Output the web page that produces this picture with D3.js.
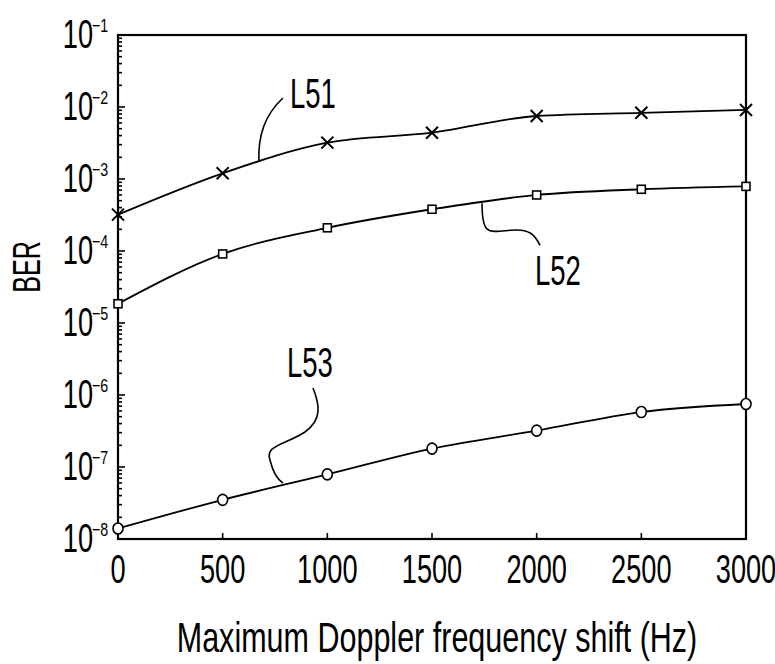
<!DOCTYPE html>
<html>
<head>
<meta charset="utf-8">
<script src="https://cdn.jsdelivr.net/npm/d3@7"></script>
<style>
  body { margin: 0; background: #fff; }
  text { font-family: "Liberation Sans", Arial, sans-serif; fill: #000; }
</style>
</head>
<body>
<div id="vis"></div>
<script>
// data
var freq = [0, 500, 1000, 1500, 2000, 2500, 3000];
var l51 = [3.2e-4, 1.2e-3, 3.2e-3, 4.4e-3, 7.5e-3, 8.3e-3, 9.1e-3];
var l52 = [1.85e-5, 9.1e-5, 2.1e-4, 3.8e-4, 6.0e-4, 7.2e-4, 7.9e-4];
var l53 = [1.4e-8, 3.5e-8, 7.9e-8, 1.8e-7, 3.2e-7, 5.8e-7, 7.5e-7];
var xTicks = [0, 500, 1000, 1500, 2000, 2500, 3000];
var yExp = [-1, -2, -3, -4, -5, -6, -7, -8];

const width = 775;
const height = 664;
const margin = { top: 35, right: 29, bottom: 125, left: 118 };

var svg = d3
    .select("#vis")
    .append("svg")
    .attr("width", width)
    .attr("height", height);

var x = d3.scaleLinear().domain([0, 3000]).range([margin.left, width - margin.right]);
var y = d3.scaleLog().domain([1e-8, 1e-1]).range([height - margin.bottom, margin.top]);

// the plotter font is very narrow, so squeeze the glyphs horizontally
function label(g, px, py, str, size, anchor, sx) {
    return g.append("text")
        .attr("transform", "translate(" + px + "," + py + ") scale(" + (sx || 0.68) + ",1)")
        .attr("text-anchor", anchor || "start")
        .style("font-size", size + "px")
        .text(str);
}

// frame
svg.append("rect")
    .attr("x", x(0))
    .attr("y", y(1e-1))
    .attr("width", x(3000) - x(0))
    .attr("height", y(1e-8) - y(1e-1))
    .attr("fill", "none")
    .attr("stroke", "#000")
    .attr("stroke-width", 2.2);

// left axis ticks (inward), with log minors
var yTickVals = [];
for (var e = -8; e < -1; e++) {
    for (var m = 1; m < 10; m++) yTickVals.push({ v: m * Math.pow(10, e), major: m == 1 });
}
svg.append("g")
    .selectAll("line")
    .data(yTickVals)
    .enter()
    .append("line")
    .attr("x1", x(0))
    .attr("x2", function(d) { return x(0) + (d.major ? 7 : 4); })
    .attr("y1", function(d) { return y(d.v); })
    .attr("y2", function(d) { return y(d.v); })
    .attr("stroke", "#000")
    .attr("stroke-width", 1.6);

// bottom ticks
svg.append("g")
    .selectAll("line")
    .data(xTicks)
    .enter()
    .append("line")
    .attr("x1", function(d) { return x(d); })
    .attr("x2", function(d) { return x(d); })
    .attr("y1", y(1e-8))
    .attr("y2", y(1e-8) - 6)
    .attr("stroke", "#000")
    .attr("stroke-width", 1.6);

// tick labels
var gx = svg.append("g");
xTicks.forEach(function(t) {
    label(gx, x(t), 583, String(t), 40, "middle");
});

var gy = svg.append("g");
yExp.forEach(function(e) {
    var py = y(Math.pow(10, e));
    label(gy, 93, py + 13, "10", 40, "end");
    label(gy, 92, py - 3, "\u2212" + Math.abs(e), 19, "start", 0.75);
});

// axis titles
label(svg, 437, 652, "Maximum Doppler frequency shift (Hz)", 43, "middle", 0.71);
svg.append("text")
    .attr("transform", "translate(40,267) rotate(-90) scale(0.66,1)")
    .attr("text-anchor", "middle")
    .style("font-size", "38px")
    .text("BER");

// series
var series = [
    { name: "L51", vals: l51, mark: "x" },
    { name: "L52", vals: l52, mark: "square" },
    { name: "L53", vals: l53, mark: "circle" }
];

var line = d3.line()
    .x(function(d) { return x(d[0]); })
    .y(function(d) { return y(d[1]); })
    .curve(d3.curveMonotoneX);

series.forEach(function(s) {
    var pts = freq.map(function(f, i) { return [f, s.vals[i]]; });
    svg.append("path")
        .datum(pts)
        .attr("d", line)
        .attr("fill", "none")
        .attr("stroke", "#000")
        .attr("stroke-width", 1.8);

    var mg = svg.append("g")
        .selectAll("g")
        .data(pts)
        .enter()
        .append("g")
        .attr("transform", function(d) { return "translate(" + x(d[0]) + "," + y(d[1]) + ")"; });

    if (s.mark == "x") {
        mg.append("path")
            .attr("d", "M-6,-6L6,6M-6,6L6,-6")
            .attr("stroke", "#000")
            .attr("stroke-width", 2);
    } else if (s.mark == "square") {
        mg.append("rect")
            .attr("x", -4).attr("y", -4).attr("width", 8).attr("height", 8)
            .attr("fill", "#fff")
            .attr("stroke", "#000")
            .attr("stroke-width", 1.6);
    } else {
        mg.append("ellipse")
            .attr("rx", 5).attr("ry", 5.5)
            .attr("fill", "#fff")
            .attr("stroke", "#000")
            .attr("stroke-width", 1.6);
    }
});

// curve labels with leader lines, anchored on the curves
var notes = [
    { text: "L51", f: 673, v: 1.72e-3, path: "M0,0C-1,-27 6,-47 24,-64", tx: 31, ty: -54 },
    { text: "L52", f: 1739, v: 4.6e-4, path: "M0,0C0,32 6,29 28,27C48,25 53,32 58,42", tx: 53, ty: 82 },
    { text: "L53", f: 788, v: 6.0e-8, path: "M30,-95C37,-78 39,-63 22,-51C2,-38 -18,-38 -13,-23C-10,-11 -5,-3 0,0", tx: 4, ty: -106 }
];

notes.forEach(function(n) {
    var g = svg.append("g")
        .attr("transform", "translate(" + x(n.f) + "," + y(n.v) + ")");
    g.append("path")
        .attr("d", n.path)
        .attr("fill", "none")
        .attr("stroke", "#000")
        .attr("stroke-width", 1.6);
    label(g, n.tx, n.ty, n.text, 43, "start", 0.64);
});
</script>
</body>
</html>
